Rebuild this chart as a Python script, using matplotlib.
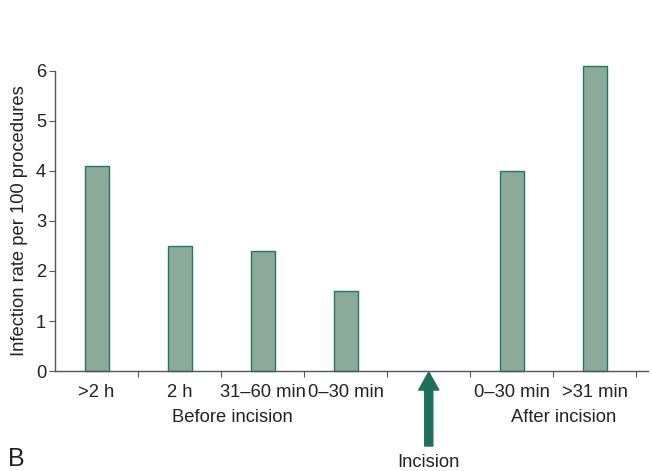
import matplotlib.pyplot as plt
from matplotlib.patches import FancyArrowPatch

plt.rcParams['font.family'] = ['Liberation Sans', 'DejaVu Sans']

# slots: 4 before incision, 1 empty slot for the incision arrow, 2 after
labels = [">2 h", "2 h", "31\u201360 min", "0\u201330 min", "", "0\u201330 min", ">31 min"]
rates = [4.1, 2.5, 2.4, 1.6, None, 4.0, 6.1]

fill = "#8caa99"
edge = "#1f7a5e"
arrow_col = "#1e6f5c"
txt = "#222222"
fs = 13.2

fig = plt.figure(figsize=(6.52, 4.71), dpi=100)
ax = fig.add_axes([0.0844, 0.2123, 0.9095, 0.637])

for i, v in enumerate(rates):
    if v is None:
        continue
    ax.bar(i + 0.5, v, width=0.29, color=fill, edgecolor=edge, linewidth=1.0,
           clip_on=False, zorder=2)

ax.set_xlim(0, 7.14)
ax.set_ylim(0, 6)
ax.set_xticks(range(1, 8))
ax.set_xticklabels([])
ax.tick_params(axis='x', length=4.5, color="#555555")
for i, lab in enumerate(labels):
    ax.text(i + 0.5, -0.26, lab, ha='center', va='top', fontsize=fs, color=txt)

ax.set_yticks(range(7))
ax.tick_params(axis='y', length=4.5, pad=2, labelsize=fs, color="#555555", labelcolor=txt)
ax.set_ylabel("Infection rate per 100 procedures", fontsize=fs, color=txt)
ax.yaxis.set_label_coords(-0.046, 0.5)

for s in ['top', 'right']:
    ax.spines[s].set_visible(False)
for s in ['left', 'bottom']:
    ax.spines[s].set_color("#555555")
    ax.spines[s].set_linewidth(1.0)

ax.text(2.14, -0.76, "Before incision", ha='center', va='top', fontsize=fs, color=txt)
ax.text(6.12, -0.76, "After incision", ha='center', va='top', fontsize=fs, color=txt)

arrow = FancyArrowPatch((4.5, -1.5), (4.5, -0.02),
                        arrowstyle="simple,head_length=1.3,head_width=1.45,tail_width=0.58",
                        mutation_scale=10, color=arrow_col, shrinkA=0, shrinkB=0,
                        clip_on=False)
ax.add_patch(arrow)
ax.text(4.5, -1.66, "Incision", ha='center', va='top', fontsize=fs, color=txt)

fig.text(0.012, 0.01, "B", fontsize=18, color=txt)

fig.savefig("out.png", dpi=100)
